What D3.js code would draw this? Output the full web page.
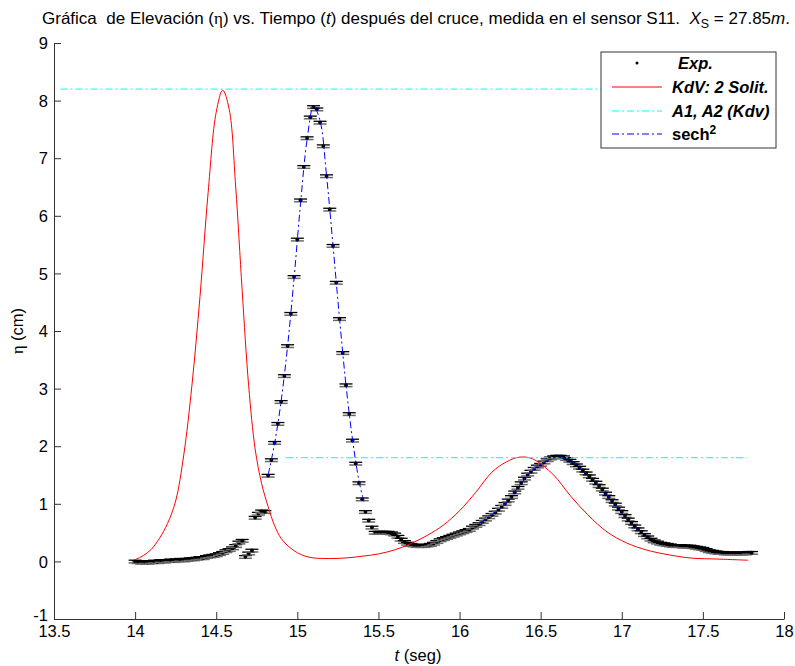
<!DOCTYPE html>
<html>
<head>
<meta charset="utf-8">
<script src="https://cdn.jsdelivr.net/npm/d3@7"></script>
<style>
body { margin: 0; background: #fff; }
svg text { font-family: "Liberation Sans", Arial, sans-serif; white-space: pre; }
</style>
</head>
<body>
<script>
// tick labels
var xTicks = [13.5, 14, 14.5, 15, 15.5, 16, 16.5, 17, 17.5, 18];
var yTicks = [-1, 0, 1, 2, 3, 4, 5, 6, 7, 8, 9];

// measured points (Exp.), time in s, elevation in cm
var expT = [14.00,14.02,14.04,14.06,14.08,14.10,14.12,14.14,14.16,14.18,
  14.20,14.22,14.24,14.26,14.28,14.30,14.32,14.34,14.36,14.38,
  14.40,14.42,14.44,14.46,14.48,14.50,14.52,14.54,14.56,14.58,
  14.60,14.62,14.64,14.66,14.68,14.70,14.72,14.74,14.76,14.78,
  14.80,14.82,14.84,14.86,14.88,14.90,14.92,14.94,14.96,14.98,
  15.00,15.02,15.04,15.06,15.08,15.10,15.12,15.14,15.16,15.18,
  15.20,15.22,15.24,15.26,15.28,15.30,15.32,15.34,15.36,15.38,
  15.40,15.42,15.44,15.46,15.48,15.50,15.52,15.54,15.56,15.58,
  15.60,15.62,15.64,15.66,15.68,15.70,15.72,15.74,15.76,15.78,
  15.80,15.82,15.84,15.86,15.88,15.90,15.92,15.94,15.96,15.98,
  16.00,16.02,16.04,16.06,16.08,16.10,16.12,16.14,16.16,16.18,
  16.20,16.22,16.24,16.26,16.28,16.30,16.32,16.34,16.36,16.38,
  16.40,16.42,16.44,16.46,16.48,16.50,16.52,16.54,16.56,16.58,
  16.60,16.62,16.64,16.66,16.68,16.70,16.72,16.74,16.76,16.78,
  16.80,16.82,16.84,16.86,16.88,16.90,16.92,16.94,16.96,16.98,
  17.00,17.02,17.04,17.06,17.08,17.10,17.12,17.14,17.16,17.18,
  17.20,17.22,17.24,17.26,17.28,17.30,17.32,17.34,17.36,17.38,
  17.40,17.42,17.44,17.46,17.48,17.50,17.52,17.54,17.56,17.58,
  17.60,17.62,17.64,17.66,17.68,17.70,17.72,17.74,17.76,17.78,
  17.80];
var expY = [0.00,-0.01,-0.02,-0.01,-0.02,-0.01,0.00,-0.01,0.01,0.00,
  0.01,0.02,0.01,0.02,0.03,0.02,0.03,0.04,0.04,0.05,
  0.06,0.06,0.08,0.09,0.10,0.11,0.13,0.15,0.18,0.20,
  0.23,0.27,0.33,0.36,0.08,0.14,0.19,0.76,0.83,0.87,
  0.86,1.49,1.76,2.06,2.39,2.77,3.22,3.74,4.30,4.94,
  5.59,6.27,6.85,7.35,7.71,7.89,7.85,7.62,7.21,6.69,
  6.11,5.48,4.84,4.21,3.62,3.06,2.56,2.10,1.70,1.36,
  1.08,0.86,0.71,0.59,0.50,0.50,0.50,0.50,0.50,0.49,
  0.47,0.43,0.38,0.34,0.31,0.29,0.28,0.27,0.27,0.27,
  0.28,0.29,0.31,0.34,0.37,0.39,0.41,0.43,0.45,0.47,
  0.49,0.51,0.53,0.55,0.59,0.62,0.65,0.69,0.73,0.77,
  0.81,0.85,0.90,0.95,1.00,1.06,1.12,1.20,1.28,1.36,
  1.44,1.51,1.56,1.61,1.65,1.68,1.72,1.76,1.79,1.81,
  1.82,1.82,1.81,1.78,1.75,1.71,1.67,1.63,1.58,1.53,
  1.48,1.42,1.37,1.31,1.25,1.18,1.12,1.05,0.99,0.92,
  0.86,0.79,0.73,0.67,0.61,0.56,0.51,0.46,0.42,0.38,
  0.35,0.33,0.31,0.30,0.29,0.28,0.27,0.27,0.27,0.26,
  0.26,0.26,0.25,0.24,0.23,0.22,0.20,0.18,0.17,0.16,
  0.15,0.15,0.14,0.14,0.14,0.14,0.14,0.14,0.14,0.15,
  0.15];

// KdV 2-soliton curve
var kdvT = [14.00,14.05,14.10,14.15,14.20,14.25,14.30,14.35,14.40,14.45,
  14.50,14.54,14.58,14.62,14.66,14.70,14.74,14.78,14.82,14.86,
  14.90,14.95,15.00,15.05,15.10,15.20,15.30,15.40,15.50,15.60,
  15.70,15.80,15.90,16.00,16.10,16.20,16.29,16.37,16.45,16.58,
  16.68,16.79,16.91,17.03,17.15,17.26,17.42,17.60,17.78];
var kdvY = [0.03,0.10,0.21,0.40,0.66,1.05,1.85,3.05,4.60,6.40,
  7.80,8.18,7.85,6.50,4.70,3.05,1.95,1.35,0.95,0.62,
  0.40,0.25,0.15,0.09,0.06,0.05,0.06,0.09,0.13,0.20,
  0.31,0.45,0.63,0.88,1.20,1.55,1.73,1.81,1.78,1.50,
  1.15,0.81,0.51,0.32,0.20,0.13,0.06,0.04,0.02];

// KdV amplitudes A1, A2
var ampLevels = [8.2, 1.8];
var ampStart = [13.54, 14.93];
var ampEnd = [17.77, 17.77];

// sech^2 fits
var sech1T = [14.82,14.86,14.90,14.94,14.98,15.02,15.06,15.10,15.14,15.18,15.22,15.26,15.30,15.34,15.38,15.41];
var sech1Y = [1.50,2.05,2.78,3.74,4.92,6.22,7.32,7.90,7.65,6.70,5.48,4.22,3.06,2.12,1.40,1.04];
var sech2T = [16.12,16.20,16.28,16.36,16.44,16.52,16.60,16.68,16.76,16.84,16.92,17.00,17.08,17.16];
var sech2Y = [0.66,0.81,1.00,1.28,1.56,1.72,1.81,1.75,1.58,1.37,1.12,0.86,0.61,0.42];

var w = 795, h = 666;
var mLeft = 54, mRight = 784, mTop = 43, mBottom = 619;
var axisColor = "#333";
var dashDot = "7,3,2,3";
var fs = "16.5px";

var svg = d3.select("body").append("svg")
  .attr("width", w)
  .attr("height", h);

var x = d3.scaleLinear().domain([13.5, 18]).range([mLeft, mRight]);
var y = d3.scaleLinear().domain([-1, 9]).range([mBottom, mTop]);

// axes, ticks pointing inward like matlab
var xAxis = d3.axisBottom(x).tickValues(xTicks).tickFormat(String)
  .tickSizeInner(-7).tickSizeOuter(0).tickPadding(5);
var yAxis = d3.axisLeft(y).tickValues(yTicks).tickFormat(String)
  .tickSizeInner(-7).tickSizeOuter(0).tickPadding(6);

var gx = svg.append("g")
  .attr("transform", "translate(0," + mBottom + ")")
  .call(xAxis);
var gy = svg.append("g")
  .attr("transform", "translate(" + mLeft + ",0)")
  .call(yAxis);

[gx, gy].forEach(function(g) {
  g.selectAll("path, line").attr("stroke", axisColor);
  g.selectAll("text")
    .attr("fill", "#000")
    .style("font-family", "'Liberation Sans', Arial, sans-serif")
    .style("font-size", fs);
});
gx.selectAll("text").attr("dy", "0.8em");
gy.selectAll("text").attr("dy", "0.35em");
// matlab puts -1 just above the corner
gy.selectAll("text").filter(function(d) { return d == -1; }).attr("dy", "0.1em");

// experimental points with tiny error bars
var pts = expT.map(function(t, i) { return [t, expY[i]]; });
var marks = svg.append("g").selectAll("g")
  .data(pts)
  .enter()
  .append("g")
  .attr("transform", function(d) { return "translate(" + x(d[0]) + "," + y(d[1]) + ")"; });
marks.append("line")
  .attr("x1", -6.5).attr("x2", 6.5).attr("y1", 1.5).attr("y2", 1.5)
  .attr("stroke", "#6a6a6a").attr("stroke-width", 1.5);
marks.append("line")
  .attr("x1", -6.5).attr("x2", 6.5).attr("y1", -1.2).attr("y2", -1.2)
  .attr("stroke", "#000").attr("stroke-width", 1.3);
marks.append("circle")
  .attr("r", 1.9)
  .attr("fill", "#000");

var line = d3.line()
  .x(function(d) { return x(d[0]); })
  .y(function(d) { return y(d[1]); })
  .curve(d3.curveCatmullRom);

// KdV red curve
svg.append("path")
  .datum(kdvT.map(function(t, i) { return [t, kdvY[i]]; }))
  .attr("d", line)
  .attr("fill", "none")
  .attr("stroke", "#ff0000")
  .attr("stroke-width", 1);

// amplitude lines
svg.selectAll(".amp")
  .data(ampLevels)
  .enter()
  .append("line")
  .attr("class", "amp")
  .attr("x1", function(d, i) { return x(ampStart[i]); })
  .attr("x2", function(d, i) { return x(ampEnd[i]); })
  .attr("y1", function(d) { return y(d); })
  .attr("y2", function(d) { return y(d); })
  .attr("stroke", "#00ffff")
  .attr("stroke-width", 1)
  .attr("stroke-dasharray", dashDot);

// sech^2 fits in blue
[[sech1T, sech1Y], [sech2T, sech2Y]].forEach(function(s) {
  svg.append("path")
    .datum(s[0].map(function(t, i) { return [t, s[1][i]]; }))
    .attr("d", line)
    .attr("fill", "none")
    .attr("stroke", "#0000ff")
    .attr("stroke-width", 1)
    .attr("stroke-dasharray", dashDot);
});

// title
var title = svg.append("text")
  .attr("x", 416)
  .attr("y", 24)
  .attr("text-anchor", "middle")
  .attr("textLength", 748)
  .attr("lengthAdjust", "spacingAndGlyphs")
  .style("font-size", fs);
title.append("tspan").text("Gráfica  de Elevación (");
title.append("tspan").style("font-family", "'Liberation Serif', serif").text("η");
title.append("tspan").text(") vs. Tiempo (");
title.append("tspan").style("font-style", "italic").text("t");
title.append("tspan").text(") después del cruce, medida en el sensor S11.  ");
title.append("tspan").style("font-style", "italic").text("X");
title.append("tspan").attr("dy", 4).style("font-size", "12px").text("S");
title.append("tspan").attr("dy", -4).text(" = 27.85");
title.append("tspan").style("font-style", "italic").text("m");
title.append("tspan").text(".");

// x label
var xl = svg.append("text")
  .attr("x", 418)
  .attr("y", 661)
  .attr("text-anchor", "middle")
  .style("font-size", fs);
xl.append("tspan").style("font-style", "italic").text("t");
xl.append("tspan").text(" (seg)");

// y label
var yl = svg.append("text")
  .attr("transform", "translate(23," + y(4) + ") rotate(-90)")
  .attr("text-anchor", "middle")
  .style("font-size", fs);
yl.append("tspan").style("font-family", "'Liberation Serif', serif").text("η");
yl.append("tspan").text(" (cm)");

// legend
var lg = svg.append("g");
lg.append("rect")
  .attr("x", 601).attr("y", 52)
  .attr("width", 175).attr("height", 96)
  .attr("fill", "#fff")
  .attr("stroke", axisColor);

var legendNames = ["Exp.", "KdV: 2 Solit.", "A1, A2 (Kdv)", "sech"];
var legendY = [63, 87, 111, 134];

lg.append("circle").attr("cx", 637).attr("cy", legendY[0]).attr("r", 1.5).attr("fill", "#000");
lg.append("line").attr("x1", 612).attr("x2", 662).attr("y1", legendY[1]).attr("y2", legendY[1])
  .attr("stroke", "#ff0000");
lg.append("line").attr("x1", 612).attr("x2", 662).attr("y1", legendY[2]).attr("y2", legendY[2])
  .attr("stroke", "#00ffff").attr("stroke-dasharray", dashDot);
lg.append("line").attr("x1", 612).attr("x2", 662).attr("y1", legendY[3]).attr("y2", legendY[3])
  .attr("stroke", "#0000ff").attr("stroke-dasharray", dashDot);

lg.selectAll(".lgt")
  .data(legendNames)
  .enter()
  .append("text")
  .attr("class", "lgt")
  .attr("x", function(d, i) { return i == 0 ? 678 : 672; })
  .attr("y", function(d, i) { return legendY[i]; })
  .attr("dy", "0.35em")
  .style("font-size", fs)
  .style("font-weight", "bold")
  .style("font-style", function(d, i) { return i < 3 ? "italic" : "normal"; })
  .text(function(d) { return d; });

// superscript 2 on sech
lg.selectAll(".lgt").filter(function(d, i) { return i == 3; })
  .append("tspan")
  .attr("dy", "-0.45em")
  .style("font-size", "12px")
  .text("2");
</script>
</body>
</html>
